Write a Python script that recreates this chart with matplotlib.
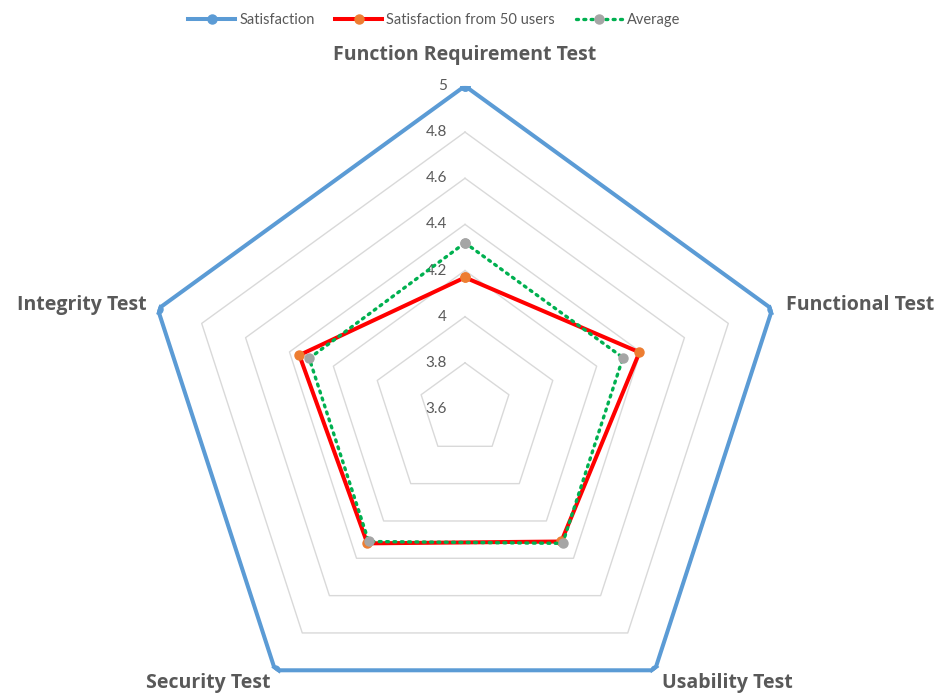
import matplotlib.pyplot as plt
import numpy as np

plt.rcParams['font.family'] = ['Lato', 'DejaVu Sans']

categories = ['Function Requirement Test', 'Functional Test', 'Usability Test',
              'Security Test', 'Integrity Test']
satisfaction = [5, 5, 5, 5, 5]
satisfaction_50 = [4.17, 4.395, 4.31, 4.32, 4.355]
average = [4.32, 4.32, 4.32, 4.31, 4.31]
r_ticks = [3.6, 3.8, 4.0, 4.2, 4.4, 4.6, 4.8, 5.0]
r_tick_labels = ['3.6', '3.8', '4', '4.2', '4.4', '4.6', '4.8', '5']

n = len(categories)
theta = np.arange(n) * 2 * np.pi / n


def closed(v):
    return np.append(v, v[0])


fig = plt.figure(figsize=(9.46, 6.95), dpi=100)
ax = fig.add_axes([0.1501, -0.0532, 0.6829, 0.9295], projection='polar')
ax.set_theta_offset(np.pi / 2)
ax.set_theta_direction(-1)
ax.set_ylim(3.6, 5.0)
ax.axis('off')

# pentagon grid rings
for rv in r_ticks[1:]:
    ax.plot(closed(theta), [rv] * (n + 1), color='#d9d9d9', lw=1, zorder=1)

# value labels on the top axis
for rv, lab in zip(r_ticks, r_tick_labels):
    ax.annotate(lab, xy=(0, rv), xytext=(-13, 0), textcoords='offset points',
                ha='right', va='center', fontsize=11, color='#595959')

l1, = ax.plot(closed(theta), closed(satisfaction), color='#5b9bd5', lw=2.9,
              marker='o', markersize=6.5, markerfacecolor='#5b9bd5',
              markeredgecolor='#5b9bd5', zorder=3, label='Satisfaction')
l2, = ax.plot(closed(theta), closed(satisfaction_50), color='#ff0000', lw=2.9,
              marker='o', markersize=6.5, markerfacecolor='#ed7d31',
              markeredgecolor='#ed7d31', zorder=4, label='Satisfaction from 50 users')
l3, = ax.plot(closed(theta), closed(average), color='#00b050', lw=2.4,
              linestyle=(0, (0.6, 1.6)), dash_capstyle='round',
              marker='o', markersize=6.5, markerfacecolor='#a5a5a5',
              markeredgecolor='#a5a5a5', zorder=5, label='Average')

# category labels
offsets = [(0, 22, 'center'), (10, 3, 'left'), (5, -9, 'left'),
           (-3, -9, 'right'), (-8, 3, 'right')]
for t, lab, (dx, dy, ha) in zip(theta, categories, offsets):
    ax.annotate(lab, xy=(t, 5.0), xytext=(dx, dy), textcoords='offset points',
                ha=ha, va='center', fontsize=14, fontweight='bold',
                family=['Open Sans', 'DejaVu Sans'],
                color='#595959', annotation_clip=False)

fig.legend(handles=[l1, l2, l3], loc='upper center', bbox_to_anchor=(0.459, 1.0),
           ncol=3, frameon=False, fontsize=10.5, labelcolor='#595959',
           handlelength=3.2, handletextpad=0.3, columnspacing=1.4)

fig.savefig('out.png', dpi=100)
